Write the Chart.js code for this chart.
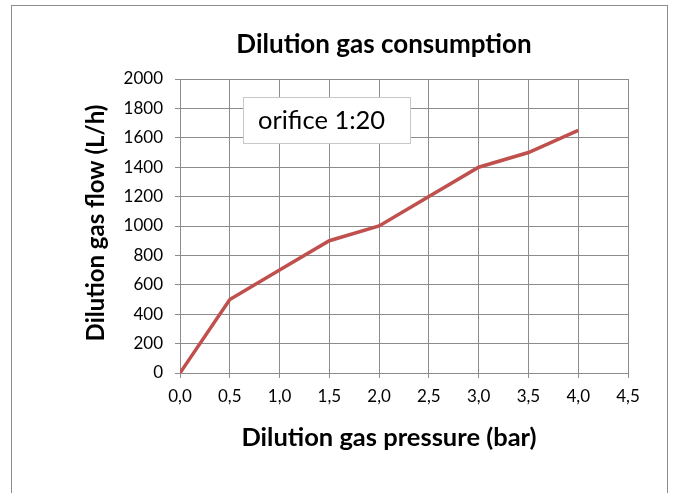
<!DOCTYPE html>
<html><head><meta charset="utf-8">
<script src="https://cdn.jsdelivr.net/npm/chart.js@4.4.0/dist/chart.umd.min.js"></script>
<style>
html,body{margin:0;padding:0;background:#fff;}
#wrap{position:absolute;left:0;top:0;width:680px;height:493px;}
#frame{position:absolute;left:11px;top:5px;width:657px;height:500px;border:1px solid #8c8c8c;box-sizing:border-box;}
canvas{position:absolute;left:0;top:0;}
</style></head>
<body>
<div id="wrap"><div id="frame"></div><canvas id="c" width="680" height="493"></canvas></div>
<script>
const pressure = [0.0, 0.5, 1.0, 1.5, 2.0, 2.5, 3.0, 3.5, 4.0];
const flow = [0, 500, 700, 900, 1000, 1200, 1400, 1500, 1650];
const chartTitle = "Dilution gas consumption";
const xTitle = "Dilution gas pressure (bar)";
const yTitle = "Dilution gas flow (L/h)";
const noteText = "orifice 1:20";
const FONT = "Lato, 'Open Sans', sans-serif";

const textPlugin = {
  id: 'texts',
  afterDraw(chart) {
    const ctx = chart.ctx;
    ctx.save();
    ctx.fillStyle = '#000';
    ctx.textAlign = 'center';
    ctx.textBaseline = 'middle';
    ctx.font = "bold 26px " + FONT;
    ctx.fillText(chartTitle, 384, 45);
    ctx.font = "bold 25.5px " + FONT;
    ctx.fillText(xTitle, 389, 438);
    ctx.font = "bold 24px " + FONT;
    ctx.translate(96, 223);
    ctx.rotate(-Math.PI / 2);
    ctx.fillText(yTitle, 0, 0);
    ctx.restore();
    // note box
    ctx.save();
    ctx.fillStyle = '#fff';
    ctx.fillRect(243, 97, 167, 46);
    ctx.strokeStyle = '#c8c8c8';
    ctx.lineWidth = 1;
    ctx.strokeRect(243.5, 97.5, 167, 46);
    ctx.fillStyle = '#000';
    ctx.font = "25.5px " + FONT;
    ctx.textAlign = 'left';
    ctx.textBaseline = 'middle';
    ctx.fillText(noteText, 258, 121);
    ctx.restore();
  }
};

new Chart(document.getElementById('c'), {
  type: 'line',
  data: {
    datasets: [{
      data: pressure.map((p, i) => ({x: p, y: flow[i]})),
      borderColor: '#C0504D',
      borderWidth: 3.5,
      pointRadius: 0,
      tension: 0,
      fill: false
    }]
  },
  options: {
    responsive: false,
    animation: false,
    devicePixelRatio: 1,
    layout: {padding: {left: 0, right: 52, top: 79, bottom: 0}},
    plugins: {legend: {display: false}, tooltip: {enabled: false}, title: {display: false}},
    scales: {
      x: {
        type: 'linear', min: 0, max: 4.5,
        afterFit(s) { s.height = 120; },
        ticks: {stepSize: 0.5, color: '#000', padding: 8, font: {family: FONT, size: 17},
          callback: v => v.toFixed(1).replace('.', ',')},
        grid: {color: '#8c8c8c', lineWidth: 1, tickLength: 5, drawTicks: true},
        border: {color: '#8c8c8c', width: 1}
      },
      y: {
        min: 0, max: 2000,
        afterFit(s) { s.width = 180; },
        ticks: {stepSize: 200, color: '#000', padding: 12, font: {family: FONT, size: 17},
          callback: v => String(v)},
        grid: {color: '#8c8c8c', lineWidth: 1, tickLength: 5, drawTicks: true},
        border: {color: '#8c8c8c', width: 1}
      }
    }
  },
  plugins: [textPlugin]
});
</script>
</body></html>
